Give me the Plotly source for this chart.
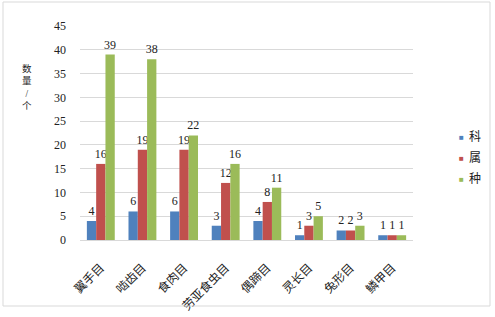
import plotly.graph_objects as go

categories = ["翼手目", "啮齿目", "食肉目", "劳亚食虫目", "偶蹄目", "灵长目", "兔形目", "鳞甲目"]
family_vals = [4, 6, 6, 3, 4, 1, 2, 1]
genus_vals = [16, 19, 19, 12, 8, 3, 2, 1]
species_vals = [39, 38, 22, 16, 11, 5, 3, 1]
series_names = ["科", "属", "种"]
colors = ["#4F81BD", "#C0504D", "#9BBB59"]
axis_title = "数<br>量<br>/<br>个"

FONT = "Liberation Serif, Noto Sans CJK SC, serif"
L, R, T, B, W, H = 80, 82, 26, 77, 495, 317
PW, PH = W - L - R, H - T - B

def px(x):
    return (x - L) / PW

def py(y):
    return (H - B - y) / PH

fig = go.Figure()
for name, vals, c in zip(series_names, [family_vals, genus_vals, species_vals], colors):
    fig.add_trace(go.Bar(
        x=categories, y=vals, name=name,
        marker=dict(color=c, line=dict(width=0)),
        text=[str(v) for v in vals], textposition="outside",
        constraintext="none",
        textfont=dict(size=12, color="#222222", family=FONT),
        cliponaxis=False, showlegend=False,
    ))

annotations = [dict(text=axis_title, xref="paper", yref="paper", x=px(27), y=py(87),
                    showarrow=False, font=dict(size=9.5, family=FONT, color="#222222"),
                    xanchor="center", yanchor="middle", align="center")]
for name, c, yy in zip(series_names, colors, [137, 158, 179]):
    annotations.append(dict(text="■", xref="paper", yref="paper", x=px(462), y=py(yy),
                            showarrow=False, font=dict(size=8, color=c),
                            xanchor="center", yanchor="middle"))
    annotations.append(dict(text=name, xref="paper", yref="paper", x=px(467), y=py(yy),
                            showarrow=False, font=dict(size=12, family=FONT, color="#222222"),
                            xanchor="left", yanchor="middle"))

fig.update_layout(
    width=W, height=H,
    margin=dict(l=L, r=R, t=T, b=B),
    paper_bgcolor="white", plot_bgcolor="white",
    barmode="group", bargap=0.33, bargroupgap=0,
    font=dict(family=FONT, size=12, color="#222222"),
    showlegend=False,
    xaxis=dict(tickangle=-45, showgrid=False, showline=True, linecolor="#D9D9D9",
               tickfont=dict(size=12, family=FONT), ticks="", automargin=False,
               ticklabelstandoff=15),
    yaxis=dict(range=[0, 45], dtick=5, showgrid=True, gridcolor="#D9D9D9",
               zeroline=False, showline=False, tickfont=dict(size=12, family=FONT),
               ticks="", automargin=False, ticklabelstandoff=13),
    shapes=[dict(type="rect", xref="paper", yref="paper",
                 x0=px(3), x1=px(490), y0=py(306), y1=py(2),
                 line=dict(color="#D9D9D9", width=1))],
    annotations=annotations,
)

fig.write_html("out.html", config={"displayModeBar": False},
               post_script="document.body.style.margin='0';")
